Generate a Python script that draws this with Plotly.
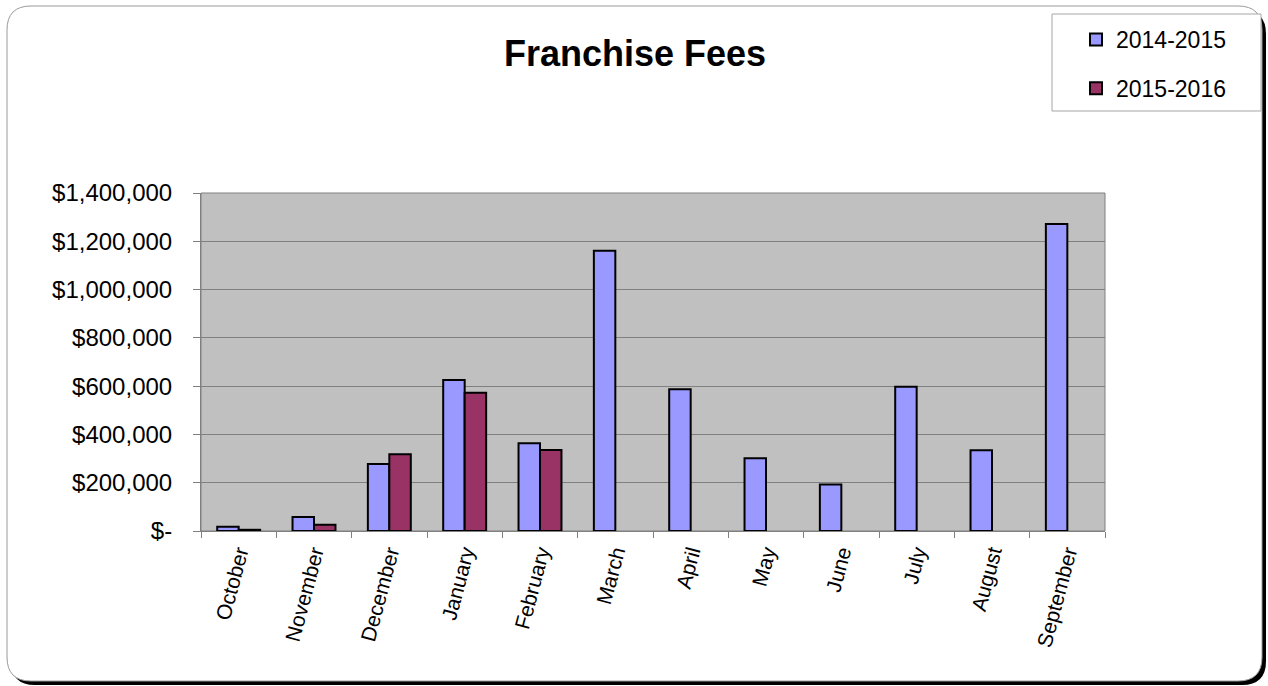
import plotly.graph_objects as go

# Monthly franchise fee receipts by fiscal year
months = ["October", "November", "December", "January", "February", "March",
          "April", "May", "June", "July", "August", "September"]
fy_2014_2015 = [18000, 58000, 277000, 625000, 363000, 1161000,
                587000, 301000, 193000, 597000, 334000, 1272000]
fy_2015_2016 = [5000, 26000, 318000, 573000, 335000, None,
                None, None, None, None, None, None]

y_ticks = [0, 200000, 400000, 600000, 800000, 1000000, 1200000, 1400000]
y_tick_text = ["$-", "$200,000", "$400,000", "$600,000", "$800,000",
               "$1,000,000", "$1,200,000", "$1,400,000"]

W, H = 1268, 686
L, R, T, B = 201, 163, 193, 155
PW, PH = W - L - R, H - T - B


def px(x):
    return (x - L) / PW


def py(y):
    return (H - B - y) / PH


def rounded_rect(x0, y0, x1, y1, r):
    """SVG path (paper units) for a rectangle with rounded corners, given in pixels."""
    pts = [
        f"M{px(x0 + r)},{py(y0)}",
        f"L{px(x1 - r)},{py(y0)}",
        f"Q{px(x1)},{py(y0)} {px(x1)},{py(y0 + r)}",
        f"L{px(x1)},{py(y1 - r)}",
        f"Q{px(x1)},{py(y1)} {px(x1 - r)},{py(y1)}",
        f"L{px(x0 + r)},{py(y1)}",
        f"Q{px(x0)},{py(y1)} {px(x0)},{py(y1 - r)}",
        f"L{px(x0)},{py(y0 + r)}",
        f"Q{px(x0)},{py(y0)} {px(x0 + r)},{py(y0)}",
        "Z",
    ]
    return " ".join(pts)


FONT = "Arial, 'Liberation Sans', sans-serif"

fig = go.Figure()
fig.add_trace(go.Bar(
    x=months, y=fy_2014_2015, name="2014-2015", legendgroup="a",
    marker=dict(color="#9999FF", line=dict(color="#000000", width=2)),
))
fig.add_trace(go.Bar(
    x=months, y=fy_2015_2016, name="2015-2016", legendgroup="b",
    marker=dict(color="#993366", line=dict(color="#000000", width=2)),
))

shapes = [
    # drop shadow of the chart frame
    dict(type="path", xref="paper", yref="paper", layer="below",
         path=rounded_rect(11, 10, 1266, 685, 24),
         fillcolor="#000000", line=dict(width=0)),
    # chart frame
    dict(type="path", xref="paper", yref="paper", layer="below",
         path=rounded_rect(7, 6, 1262, 681, 24),
         fillcolor="#FFFFFF", line=dict(color="#9A9A9A", width=1)),
    # plot area
    dict(type="rect", xref="paper", yref="paper", layer="below",
         x0=0, x1=1, y0=0, y1=1,
         fillcolor="#C0C0C0", line=dict(color="#808080", width=1)),
    # legend box
    dict(type="rect", xref="paper", yref="paper", layer="below",
         x0=px(1052), x1=px(1261), y0=py(111), y1=py(14),
         fillcolor="#FFFFFF", line=dict(color="#A6A6A6", width=1)),
]

fig.update_layout(
    width=W, height=H,
    margin=dict(l=L, r=R, t=T, b=B, autoexpand=False),
    paper_bgcolor="#FFFFFF",
    plot_bgcolor="rgba(0,0,0,0)",
    font=dict(family=FONT, color="#000000"),
    barmode="group",
    bargap=0.43,
    bargroupgap=0,
    title=dict(text="<b>Franchise Fees</b>", x=635 / W, xref="container",
               xanchor="center", y=1 - 53 / H, yref="container", yanchor="middle",
               font=dict(size=36, family=FONT, color="#000000")),
    showlegend=True,
    legend=dict(x=px(1076), y=py(18), xanchor="left", yanchor="top",
                bgcolor="rgba(0,0,0,0)", borderwidth=0,
                traceorder="grouped", tracegroupgap=16,
                font=dict(size=23, family=FONT, color="#000000")),
    shapes=shapes,
    xaxis=dict(
        tickangle=-75, tickfont=dict(size=21, family=FONT),
        ticks="outside", ticklen=6, tickcolor="#808080", tickson="boundaries",
        showline=True, linecolor="#808080", linewidth=1,
        showgrid=False, zeroline=False,
    ),
    yaxis=dict(
        range=[0, 1400000], tickvals=y_ticks, ticktext=y_tick_text,
        tickfont=dict(size=24, family=FONT),
        ticks="outside", ticklen=7, tickcolor="#808080",
        ticklabelstandoff=16,
        showline=True, linecolor="#808080", linewidth=1,
        showgrid=True, gridcolor="#808080", gridwidth=1,
        zeroline=False,
    ),
)

fig.write_html("out.html")
